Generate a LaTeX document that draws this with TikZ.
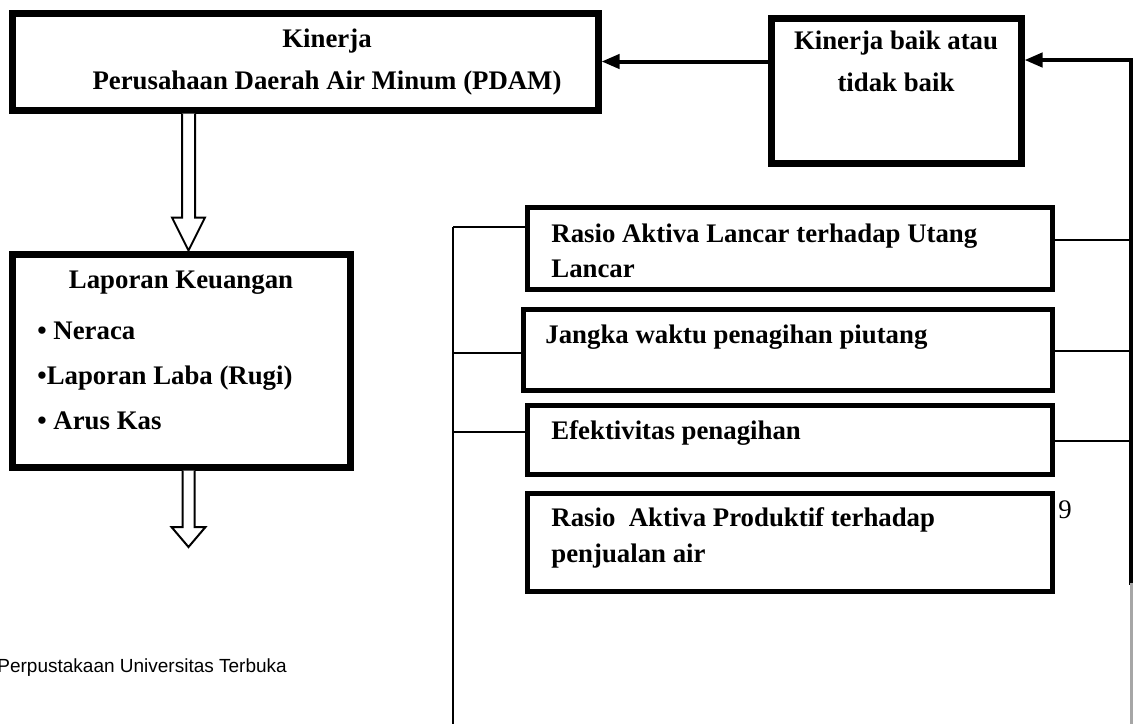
\documentclass[tikz,border=0pt]{standalone}
\usepackage{fontspec}
\setmainfont{Liberation Serif}
\newfontfamily\libsans{Liberation Sans}
\usetikzlibrary{arrows.meta}
\begin{document}
\begin{tikzpicture}[x=0.5pt,y=-0.5pt,
  bigbox/.style={draw, line width=3.5pt, inner sep=0pt},
  smallbox/.style={draw, line width=2.5pt, inner sep=0pt},
  txt/.style={font=\bfseries\fontsize{13.4}{21}\selectfont, inner sep=0pt},
  link/.style={line width=1pt},
  hollow/.style={draw, line width=1pt, fill=white, line join=miter},
  fb/.style={line width=2pt, -{Triangle[length=9pt,width=7pt]}}]
\useasboundingbox (0,0) rectangle (1135,724);

% boxes
\node[bigbox, minimum width=293pt, minimum height=48.5pt] (top) at (305,61.5) {};
\node[bigbox, minimum width=125pt, minimum height=72.5pt] (kb) at (896,90.5) {};
\node[bigbox, minimum width=169pt, minimum height=106.5pt] (lap) at (181,360.5) {};
\node[smallbox, minimum width=262.5pt, minimum height=41pt] (b1) at (789.5,248) {};
\node[smallbox, minimum width=264.5pt, minimum height=40.5pt] (b2) at (787.5,349.5) {};
\node[smallbox, minimum width=262.5pt, minimum height=34.5pt] (b3) at (789.5,439.5) {};
\node[smallbox, minimum width=262.5pt, minimum height=49pt] (b4) at (789.5,542) {};

% texts
\node[txt, align=center] (toptext) at (327,62) {Kinerja\\Perusahaan Daerah Air Minum (PDAM)};
\node[txt, align=center] (kbtext) at (896,61) {Kinerja baik atau\\tidak baik};
\node[txt] (laptitle) at (181,283) {Laporan Keuangan};
\node[txt, align=left, anchor=west, font=\bfseries\fontsize{13.4}{22.5}\selectfont] (laplist) at (37,376)
  {\textbullet\ Neraca\\\textbullet Laporan Laba (Rugi)\\\textbullet\ Arus Kas};
\node[txt, align=left, anchor=west, font=\bfseries\fontsize{13.4}{17.5}\selectfont] (b1text) at (551,251)
  {Rasio Aktiva Lancar terhadap Utang\\Lancar};
\node[txt, anchor=west] (b2text) at (545,337) {Jangka waktu penagihan piutang};
\node[txt, anchor=west] (b3text) at (551,433) {Efektivitas penagihan};
\node[txt, align=left, anchor=west, font=\bfseries\fontsize{13.4}{18}\selectfont] (b4text) at (551,538)
  {Rasio\ \ Aktiva Produktif terhadap\\penjualan air};
\node[inner sep=0pt, font=\fontsize{13.4}{16}\selectfont] (nine) at (1065,510) {9};
\node[inner sep=0pt, anchor=west, font=\libsans\fontsize{9.5}{12}\selectfont] (lib) at (-3,668)
  {Perpustakaan Universitas Terbuka};

% hollow arrows
\coordinate (ax) at (188.5,0);
\coordinate (h1s) at (top.south -| ax);
\coordinate (h1e) at (lap.north -| ax);
\draw[hollow] ([xshift=-3.25pt]h1s) -- ([xshift=-3.25pt,yshift=16.5pt]h1e)
  -- ([xshift=-8.25pt,yshift=16.5pt]h1e) -- (h1e)
  -- ([xshift=8.25pt,yshift=16.5pt]h1e) -- ([xshift=3.25pt,yshift=16.5pt]h1e)
  -- ([xshift=3.25pt]h1s);
\coordinate (h2s) at (lap.south -| ax);
\coordinate (h2e) at (188.5,547);
\draw[hollow] ([xshift=-3pt]h2s) -- ([xshift=-3pt,yshift=10pt]h2e)
  -- ([xshift=-8.5pt,yshift=10pt]h2e) -- (h2e)
  -- ([xshift=8.5pt,yshift=10pt]h2e) -- ([xshift=3pt,yshift=10pt]h2e)
  -- ([xshift=3pt]h2s);

% feedback arrows
\draw[fb] (kb.west |- top.east) -- (top.east);
\coordinate (R0) at (1131,60);
\coordinate (R1) at (1131,240);
\coordinate (R2) at (1131,351);
\coordinate (R3) at (1131,441);
\coordinate (R4) at (1131,583);
\coordinate (R5) at (1131,724);
\draw[fb] (R0) -- (R0 -| kb.east);
\draw[line width=2pt, line cap=rect] (R0) -- (R4);
\draw[line width=1.5pt, black!35] (R4) -- (R5);
\draw[link] (R1 -| b1.east) -- (R1);
\draw[link] (R2 -| b2.east) -- (R2);
\draw[link] (R3 -| b3.east) -- (R3);

% left bus
\coordinate (L0) at (453,724);
\coordinate (L1) at (453,227);
\coordinate (L2) at (453,353);
\coordinate (L3) at (453,432);
\draw[link] (L1) -- (L0);
\draw[link] (L1) -- (L1 -| b1.west);
\draw[link] (L2) -- (L2 -| b2.west);
\draw[link] (L3) -- (L3 -| b3.west);
\end{tikzpicture}
\end{document}
